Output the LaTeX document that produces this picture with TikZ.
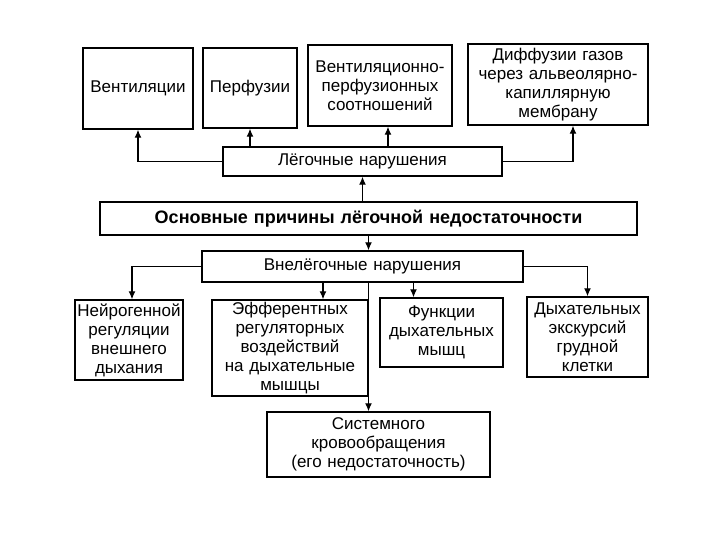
\documentclass[tikz,border=0pt]{standalone}
\usepackage{fontspec}
\setmainfont{Liberation Sans}
\usetikzlibrary{shapes,arrows.meta}

\begin{document}
\begin{tikzpicture}[x=1pt, y=-1pt]
        \tikzstyle{block} = [rectangle, draw, line width=1.5pt, text centered, inner xsep=1pt, inner ysep=0pt, font=\fontsize{17}{19}\selectfont]
        \tikzstyle{line} = [draw, line width=1.1pt, -{Latex[length=8pt,width=7pt]}]

    \useasboundingbox [fill=white] (0,0) rectangle (720,540);

    % lung disorders
    \node [block, text width=108pt, minimum height=81pt] (ventilation) at (138,88.5) {Вентиляции};
    \node [block, text width=92pt, minimum height=80pt] (perfusion) at (250,88) {Перфузии};
    \node [block, text width=142pt, minimum height=81pt] (vent_perf) at (380,85.5) {Вентиляционно-\\перфузионных\\соотношений};
    \node [block, text width=178pt, minimum height=81pt] (diffusion) at (558,84.5) {Диффузии газов\\через альвеолярно-\\капиллярную\\мембрану};
    \node [block, text width=277pt, minimum height=29pt] (lung) at (362.5,161.5) {Лёгочные нарушения};

    \node [block, text width=535pt, minimum height=33pt, font=\fontsize{18}{20}\selectfont\bfseries] (main_causes) at (368.5,218.5) {Основные причины лёгочной недостаточности};

    % extrapulmonary disorders
    \node [block, text width=319pt, minimum height=31pt] (extra_lung) at (362.5,266.5) {Внелёгочные нарушения};
    \node [block, text width=106pt, minimum height=80pt] (neuro) at (129,340) {Нейрогенной\\регуляции\\внешнего\\дыхания};
    \node [block, text width=154pt, minimum height=96pt] (efferent) at (290,348) {Эфферентных\\регуляторных\\воздействий\\на дыхательные\\мышцы};
    \node [block, text width=121pt, minimum height=69pt] (muscles) at (441.5,332.5) {Функции\\дыхательных\\мышц};
    \node [block, text width=119pt, minimum height=80pt] (chest) at (587.5,337) {Дыхательных\\экскурсий\\грудной\\клетки};
    \node [block, text width=221pt, minimum height=65pt] (circulation) at (378.5,444.5) {Системного\\кровообращения\\(его недостаточность)};

    \path [line] (lung.west) -| (ventilation.south);
    \path [line] (perfusion.south |- lung.north) -- (perfusion.south);
    \path [line] ([xshift=8pt]vent_perf.south |- lung.north) -- ([xshift=8pt]vent_perf.south);
    \path [line] (lung.east) -| ([xshift=15pt]diffusion.south);
    \path [line] (lung.south |- main_causes.north) -- (lung.south);
    \path [line] (main_causes.south) -- (main_causes.south |- extra_lung.north);

    \path [line] (extra_lung.west) -| ([xshift=3pt]neuro.north);
    \path [line] ([xshift=33pt]efferent.north |- extra_lung.south) -- ([xshift=33pt]efferent.north);
    \path [line] ([xshift=-28pt]muscles.north |- extra_lung.south) -- ([xshift=-28pt]muscles.north);
    \path [line] (extra_lung.east) -| (chest.north);
    \path [line] ([xshift=-10pt]circulation.north |- extra_lung.south) -- ([xshift=-10pt]circulation.north);

    \end{tikzpicture}
\end{document}
